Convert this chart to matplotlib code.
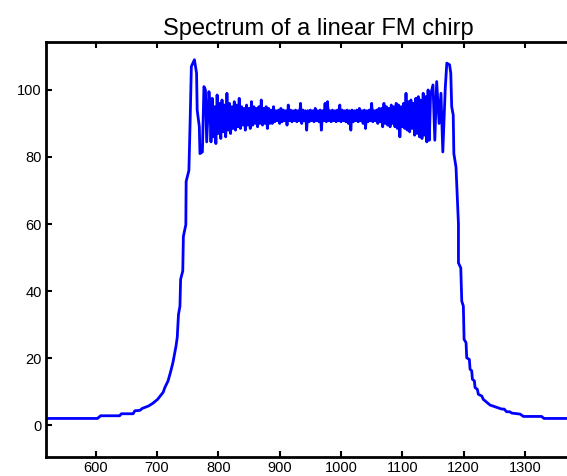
import numpy as np
import matplotlib.pyplot as plt

# rising edge of the spectrum (frequency, magnitude)
left_freq = [521, 603, 608, 639, 642, 661, 664, 672, 676, 686, 693, 701, 710, 713, 718,
             722, 726, 731, 733, 735, 737.4, 738.5, 742, 743, 747, 747.5, 752, 754, 756,
             761, 764.5, 765.5, 769, 770, 774, 776.5, 779, 781, 784.7]
left_mag = [2.0, 2.0, 2.8, 2.8, 3.4, 3.4, 4.3, 4.4, 5.0, 5.7, 6.5, 7.7, 9.8, 11.3, 13.2,
            15.8, 18.7, 23.6, 26.2, 33.0, 35.5, 43.5, 46.0, 56.3, 59.8, 72.7, 76.0, 90.6, 107.0,
            109.0, 105.0, 94.0, 89.0, 81.0, 81.5, 101.0, 100.0, 84.5, 99.5]

# flat top, one bin every 2 Hz from 786 to 1146
plateau_freq = np.arange(786, 1147, 2)
plateau_mag = [
    96.5, 84.5, 97.5, 86.0, 95.0, 84.0, 98.5, 87.0, 96.0, 85.5,
    97.0, 87.5, 95.5, 86.0, 99.0, 88.0, 96.0, 87.0, 95.0, 88.5,
    96.5, 88.0, 95.5, 89.0, 97.5, 88.5, 95.0, 89.5, 94.5, 88.0,
    95.5, 89.5, 94.5, 88.5, 96.5, 89.5, 95.0, 90.0, 94.5, 89.0,
    95.0, 90.0, 97.0, 89.5, 94.5, 90.0, 95.0, 88.5, 94.5, 90.0,
    94.0, 90.0, 95.0, 90.5, 93.8, 90.8, 94.0, 90.0, 94.5, 90.5,
    94.0, 90.8, 93.8, 89.5, 95.5, 90.8, 94.0, 90.5, 93.8, 90.8,
    94.0, 90.5, 93.8, 90.8, 96.0, 90.0, 94.0, 90.8, 93.8, 88.0,
    93.8, 90.5, 94.0, 90.8, 93.8, 90.5, 94.5, 90.8, 93.8, 90.5,
    94.0, 88.0, 93.8, 90.8, 96.0, 90.5, 96.5, 90.8, 93.8, 90.5,
    94.0, 90.8, 93.8, 90.5, 94.0, 90.8, 95.5, 90.5, 94.0, 90.8,
    93.8, 90.5, 94.0, 90.0, 93.8, 88.0, 94.0, 90.5, 93.8, 90.8,
    94.0, 90.5, 94.5, 90.8, 93.8, 90.0, 94.0, 88.5, 93.8, 90.5,
    94.0, 90.8, 96.0, 90.5, 93.8, 90.8, 94.0, 90.0, 94.5, 90.5,
    94.5, 89.0, 96.0, 90.0, 95.0, 89.5, 94.5, 89.0, 95.5, 90.0,
    95.0, 89.0, 96.0, 88.5, 95.5, 86.0, 95.0, 89.0, 96.0, 88.5,
    99.0, 88.0, 96.5, 87.5, 97.0, 88.5, 96.0, 86.5, 97.5, 87.0,
    98.0, 86.0, 97.0, 85.5, 99.0, 86.5, 98.0, 84.5, 100.0, 85.0,
    98.5,
]

# falling edge
right_freq = [1150, 1153, 1156, 1160, 1163, 1166, 1170, 1172.5, 1177, 1179, 1180.5, 1183,
              1184, 1187.5, 1190.5, 1191.5, 1191.5, 1195.3, 1196.9, 1199.5, 1200.7, 1203.9,
              1205, 1209.3, 1210.4, 1213.2, 1214.2, 1217.5, 1218.6, 1222.3, 1224, 1229.5,
              1232, 1237.7, 1243, 1251, 1256, 1262, 1266, 1270, 1275, 1278.5, 1292, 1297.4,
              1327, 1331, 1410]
right_mag = [101.5, 85.0, 102.5, 90.0, 99.0, 81.5, 100.5, 108.0, 107.5, 105.0, 95.0, 92.5,
             81.0, 77.0, 63.8, 60.0, 48.4, 46.9, 37.0, 35.5, 25.6, 24.6,
             20.1, 19.6, 16.7, 16.2, 13.7, 13.2, 11.2, 10.7, 9.2, 8.7,
             7.7, 6.8, 6.0, 5.5, 5.2, 4.8, 4.8, 4.0, 4.0, 3.6, 3.3, 2.6,
             2.6, 2.0, 2.0]

freq = np.concatenate([left_freq, plateau_freq, right_freq])
mag = np.concatenate([left_mag, plateau_mag, right_mag])

plt.rcParams['font.family'] = ['Liberation Sans', 'DejaVu Sans']

fig = plt.figure(figsize=(5.67, 4.76), dpi=100)
ax = fig.add_axes([46 / 567, 19 / 476, 544 / 567, 415 / 476])

ax.plot(freq, mag, color='#0000ff', linewidth=2.0)

ax.set_xlim(519, 1406)
ax.set_ylim(-9.5, 114.3)
ax.set_xticks(np.arange(600, 1301, 100))
ax.set_yticks(np.arange(0, 101, 20))
ax.tick_params(direction='in', length=4, width=1.5, top=True, right=True,
               labelsize=10.5, pad=3)
for side in ['left', 'bottom', 'top', 'right']:
    ax.spines[side].set_linewidth(2)

ax.set_title('Spectrum of a linear FM chirp', fontsize=17, pad=5)

fig.savefig('out.png', dpi=100)
